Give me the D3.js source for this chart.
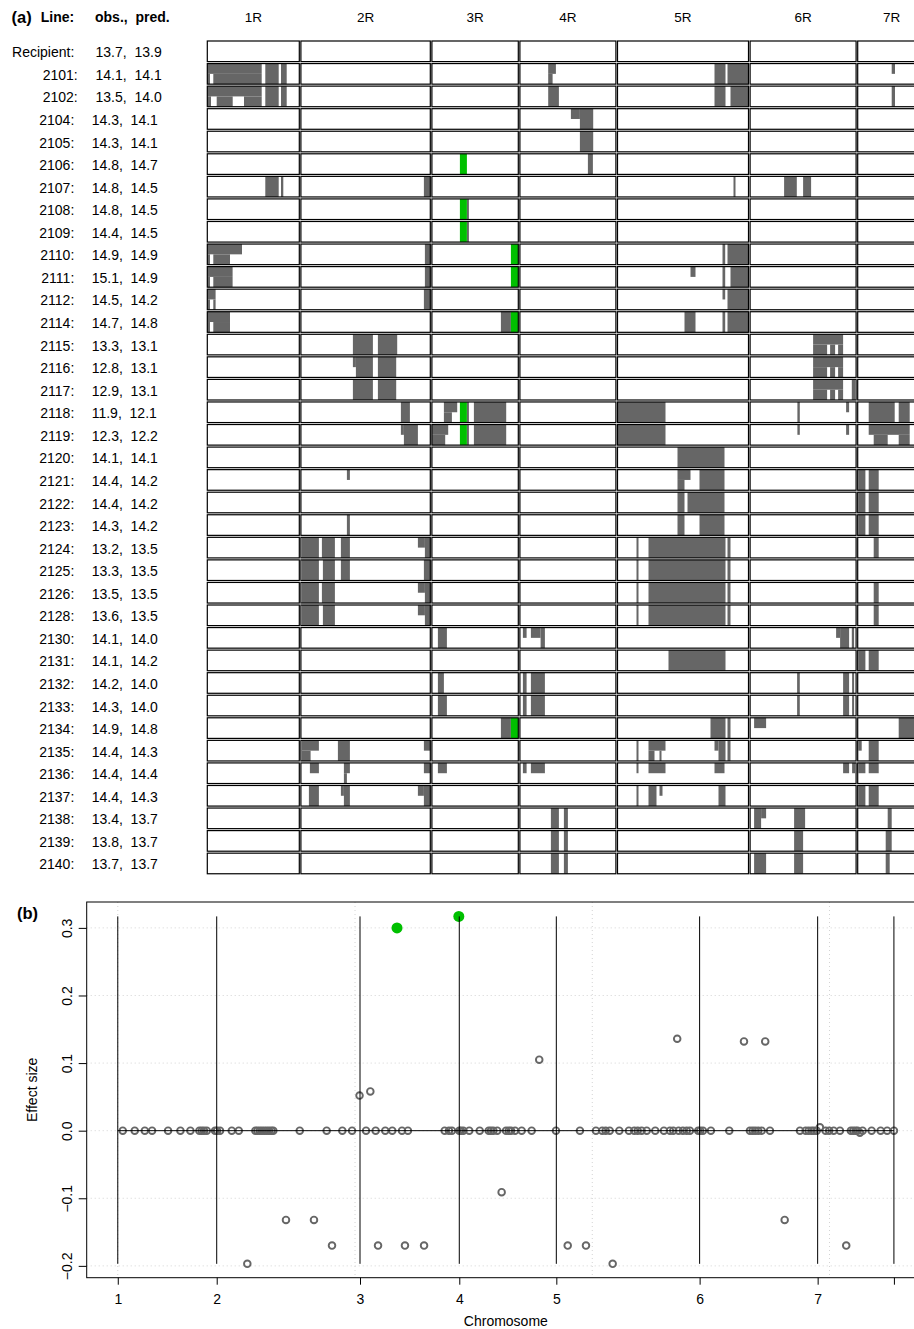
<!DOCTYPE html>
<html>
<head>
<meta charset="UTF-8">
<title>Introgression lines</title>
<script src="https://d3js.org/d3.v7.min.js"></script>
<style>
body { margin: 0; background: #fff; }
svg text { font-family: "Liberation Sans", Arial, Helvetica, sans-serif; fill: #000; }
</style>
</head>
<body>
<script>
// ---- panel (a) data ----
var lineIds = ["Recipient","2101","2102","2104","2105","2106","2107","2108","2109","2110","2111","2112","2114",
  "2115","2116","2117","2118","2119","2120","2121","2122","2123","2124","2125","2126","2128","2130","2131",
  "2132","2133","2134","2135","2136","2137","2138","2139","2140"];
var obsValues  = [13.7,14.1,13.5,14.3,14.3,14.8,14.8,14.8,14.4,14.9,15.1,14.5,14.7,13.3,12.8,12.9,11.9,12.3,
  14.1,14.4,14.4,14.3,13.2,13.3,13.5,13.6,14.1,14.1,14.2,14.3,14.9,14.4,14.4,14.4,13.4,13.8,13.7];
var predValues = [13.9,14.1,14.0,14.1,14.1,14.7,14.5,14.5,14.5,14.9,14.9,14.2,14.8,13.1,13.1,13.1,12.1,12.2,
  14.1,14.2,14.2,14.2,13.5,13.5,13.5,13.5,14.0,14.2,14.0,14.0,14.8,14.3,14.4,14.3,13.7,13.7,13.7];
var chrArms = ["1R","2R","3R","4R","5R","6R","7R"];
var armLengths = [92, 129.4, 86.4, 96, 131, 106, 68];

// donor segments: line, arm (1-7), from, to, homolog part (f = both, t = upper, b = lower)
var donorSegs = [
  ["2101",1,0,54.4,"t"],["2101",1,0,2.7,"b"],["2101",1,6,54.4,"b"],["2101",1,58,71.4,"f"],["2101",1,73.7,79.4,"f"],
  ["2101",4,28.3,36,"t"],["2101",4,28.3,32.7,"b"],["2101",5,97,108,"f"],["2101",5,110,131,"f"],["2101",7,34,37.3,"t"],
  ["2102",1,0,54.4,"t"],["2102",1,0,3.7,"b"],["2102",1,9.4,25.4,"b"],["2102",1,36.7,54.4,"b"],["2102",1,58,71.4,"f"],["2102",1,73.7,79.4,"f"],
  ["2102",4,28.3,39,"f"],["2102",5,97,108,"f"],["2102",5,113,131,"f"],["2102",7,34,37.3,"f"],
  ["2104",4,51,60,"t"],["2104",4,60,73.3,"f"],
  ["2105",4,60,73.3,"f"],
  ["2106",4,68,73,"f"],
  ["2107",1,58,71.4,"f"],["2107",1,73.7,76,"f"],["2107",2,123,129.4,"f"],["2107",5,116,118,"f"],["2107",6,34,46.7,"f"],["2107",6,53,61,"f"],
  ["2108",3,35,37,"f"],
  ["2109",3,35,37,"f"],
  ["2110",1,0,34.7,"t"],["2110",1,0,2.7,"b"],["2110",1,6,22.7,"b"],["2110",2,124,129.4,"f"],["2110",5,105,107.7,"f"],["2110",5,110,131,"f"],
  ["2111",1,0,25.3,"t"],["2111",1,0,2.7,"b"],["2111",1,6,25.3,"b"],["2111",2,124,129.4,"f"],["2111",5,73,78,"t"],["2111",5,105,107.7,"f"],["2111",5,113,131,"f"],
  ["2112",1,0,8.3,"t"],["2112",1,0,2.7,"b"],["2112",1,6,8.3,"b"],["2112",2,123,129.4,"f"],["2112",5,105,107.7,"t"],["2112",5,110,131,"f"],
  ["2114",1,0,22.7,"t"],["2114",1,0,2.7,"b"],["2114",1,6,22.7,"b"],["2114",3,69,79,"f"],["2114",5,67,78,"f"],["2114",5,105,107.7,"f"],["2114",5,110,131,"f"],
  ["2115",2,52,72,"f"],["2115",2,77,96.3,"f"],["2115",6,63,93,"t"],["2115",6,63,77,"b"],["2115",6,80,85,"b"],["2115",6,88,93,"b"],
  ["2116",2,52,55,"t"],["2116",2,55,72,"f"],["2116",2,77,95.3,"f"],["2116",6,63,93,"t"],["2116",6,63,77,"b"],["2116",6,80,85,"b"],["2116",6,88,93,"b"],
  ["2117",2,52,72,"f"],["2117",2,77,95.3,"f"],["2117",6,63,93,"t"],["2117",6,63,77,"b"],["2117",6,80,85,"b"],["2117",6,88,93,"b"],["2117",6,101.7,105,"f"],
  ["2118",2,100,109,"f"],["2118",3,12,25.3,"t"],["2118",3,12,20,"b"],["2118",3,35,37,"f"],["2118",3,42,74.3,"f"],["2118",5,0,48,"f"],
  ["2118",6,47.3,49.7,"f"],["2118",6,96,99,"t"],["2118",7,11,37,"f"],["2118",7,41,52,"f"],
  ["2119",2,100,103,"t"],["2119",2,103,117,"f"],["2119",3,0,16.3,"t"],["2119",3,0,13.3,"b"],["2119",3,35,37,"f"],["2119",3,42,74.3,"f"],["2119",5,0,48,"f"],
  ["2119",6,47.3,49.7,"t"],["2119",6,96,99,"t"],["2119",7,11,52,"t"],["2119",7,16,30,"b"],["2119",7,41,52,"b"],
  ["2120",5,60,107,"f"],
  ["2121",2,46,49,"t"],["2121",5,60,73,"t"],["2121",5,60,67,"b"],["2121",5,82,107,"f"],["2121",7,0.7,7.7,"f"],["2121",7,11,21,"f"],
  ["2122",5,60,67,"f"],["2122",5,70,107,"f"],["2122",7,0.7,7.7,"f"],["2122",7,11,21,"f"],
  ["2123",2,46,49,"f"],["2123",5,60,67,"f"],["2123",5,82,107,"f"],["2123",7,0.7,7.7,"f"],["2123",7,11,21,"f"],
  ["2124",2,1,18,"f"],["2124",2,21,34,"f"],["2124",2,40,49,"f"],["2124",2,117,124,"t"],["2124",2,124,129.4,"f"],
  ["2124",5,19,21,"f"],["2124",5,31,108,"f"],["2124",5,110,113,"f"],["2124",7,16,21,"f"],
  ["2125",2,1,18,"f"],["2125",2,22,34,"f"],["2125",2,40,49,"f"],["2125",2,123,129.4,"f"],
  ["2125",5,19,21,"f"],["2125",5,31,108,"f"],["2125",5,110,113,"f"],
  ["2126",2,1,18,"f"],["2126",2,21,34,"f"],["2126",2,117,124,"t"],["2126",2,124,129.4,"f"],
  ["2126",5,19,21,"f"],["2126",5,31,108,"f"],["2126",5,110,113,"f"],["2126",7,16,21,"f"],
  ["2128",2,1,18,"f"],["2128",2,22,34,"f"],["2128",2,117,124,"t"],["2128",2,124,129.4,"f"],
  ["2128",5,19,21,"f"],["2128",5,31,108,"f"],["2128",5,110,113,"f"],["2128",7,16,21,"f"],
  ["2130",3,6,15,"f"],["2130",4,3,6.7,"t"],["2130",4,11,20.7,"t"],["2130",4,20.7,25,"f"],["2130",6,86,90,"t"],["2130",6,90,99,"f"],["2130",6,101.7,104,"f"],
  ["2131",5,51,108,"f"],["2131",7,0.7,7.7,"f"],["2131",7,11,21,"f"],
  ["2132",3,6,12,"f"],["2132",4,3,6.7,"f"],["2132",4,11,25,"f"],["2132",6,47,49.7,"f"],["2132",6,93,99,"f"],["2132",6,102,104,"f"],
  ["2133",3,6,15,"f"],["2133",4,3,6.7,"f"],["2133",4,11,25,"f"],["2133",6,47,49.7,"f"],["2133",6,93,99,"f"],["2133",6,102,104,"f"],
  ["2134",3,69,79,"f"],["2134",5,93,108,"f"],["2134",5,110,113,"f"],["2134",6,4,16,"t"],["2134",7,41,68,"f"],
  ["2135",2,1,18,"t"],["2135",2,1,9.7,"b"],["2135",2,37,49,"f"],["2135",2,123,129.4,"t"],
  ["2135",5,19,21,"f"],["2135",5,31,48,"t"],["2135",5,31,37,"b"],["2135",5,42,44,"b"],["2135",5,97,101,"t"],["2135",5,101,108,"f"],["2135",5,110,113,"f"],
  ["2135",7,0.7,4,"t"],["2135",7,11,21,"f"],
  ["2136",2,9,18,"t"],["2136",2,43,49,"t"],["2136",2,43,46,"b"],["2136",2,123,129.4,"t"],["2136",3,6,15,"t"],["2136",4,3,6.7,"t"],["2136",4,11,25,"t"],
  ["2136",5,19,21,"t"],["2136",5,31,48,"t"],["2136",5,97,107,"t"],["2136",6,93,99,"t"],["2136",6,102,105,"t"],["2136",7,0.7,7.7,"t"],["2136",7,11,21,"t"],
  ["2137",2,8,18,"f"],["2137",2,40,43,"t"],["2137",2,43,49,"f"],["2137",2,117,123,"t"],["2137",2,123,129.4,"f"],
  ["2137",5,19,21,"f"],["2137",5,31,39,"f"],["2137",5,42,45,"t"],["2137",5,101,108,"f"],["2137",7,0.7,7.7,"f"],["2137",7,11,21,"f"],
  ["2138",4,31,39,"f"],["2138",4,44,48,"f"],["2138",6,4,11,"f"],["2138",6,11,16,"t"],["2138",6,44,55,"f"],["2138",7,30,34,"f"],
  ["2139",4,31,39,"f"],["2139",4,44,48,"f"],["2139",6,44,53,"f"],["2139",7,28,34,"f"],
  ["2140",4,31,39,"f"],["2140",4,44,48,"f"],["2140",6,4,16,"f"],["2140",6,44,53,"f"],["2140",7,28,32,"f"]
];
// segments carrying the selected QTL allele
var qtlSegs = [
  ["2106",3,28,35,"f"],["2108",3,28,35,"f"],["2109",3,28,35,"f"],
  ["2110",3,79,86.4,"f"],["2111",3,79,86.4,"f"],["2114",3,79,86.4,"f"],
  ["2118",3,28,35,"f"],["2119",3,28,35,"f"],["2134",3,79,86.4,"f"]
];

// ---- panel (b) data ----
var chrNames = ["1","2","3","4","5","6","7"];
var chrBounds = [0, 83.4, 204.2, 287.9, 369.7, 490.5, 590.0, 654.3];
var zeroEffectPos = [4.2,14.3,22.8,28.9,42.4,52.8,61.2,68.8,70.8,72.7,75.0,82.0,83.7,86.2,96.1,102.0,116.0,117.7,
  119.7,121.6,123.6,125.6,127.5,129.5,131.1,153.4,176.1,189.3,197.5,209.3,217.4,225.5,231.4,239.6,244.6,275.6,
  279.2,281.7,287.9,289.3,291.3,296.3,305.1,312.7,314.6,316.6,319.9,327.3,329.6,331.5,334.9,340.5,348.9,369.4,
  389.6,403.1,408.4,411.3,414.7,422.8,430.9,435.4,438.3,441.6,445.9,453.1,460.4,465.5,468.3,472.8,476.4,479.6,
  482.3,489.3,491.0,493.3,500.0,515.5,532.9,535.2,537.4,539.9,542.8,549.8,575.1,579.9,582.4,584.9,586.9,589.2,
  596.7,599.7,603.5,608.8,618.0,620.0,622.0,623.7,627.9,635.5,643.1,648.6,654.3];
var markerPos = [109.2,141.8,165.4,180.6,203.8,212.9,219.4,242.1,258.2,323.6,355.3,379.3,394.7,417.2,471.6,
  527.9,545.8,562.2,614.1,591.9,625.6];
var markerEff = [-0.197,-0.132,-0.132,-0.170,0.052,0.058,-0.170,-0.170,-0.170,-0.091,0.105,-0.170,-0.170,-0.197,
  0.136,0.132,0.132,-0.132,-0.170,0.005,-0.003];
var qtlPos = [235.4, 287.5];
var qtlEff = [0.300, 0.317];
var effectTicks = [-0.2,-0.1,0.0,0.1,0.2,0.3];
var gridX = [0, 200, 400, 600];

(function(){
var W = 914, H = 1329;
var grey = "#666666", green = "#00c000";
var svg = d3.select("body").append("svg").attr("width", W).attr("height", H);

// ================= panel (a) =================
var gap = 1.6;
var armStart = [];
var acc = 0;
armLengths.forEach(function(l){ armStart.push(acc); acc += l + gap; });
var xA = d3.scaleLinear().domain([0, acc]).range([207.3, 207.3 + acc]);
var yA = d3.scaleBand().domain(lineIds)
  .range([41, 41 + lineIds.length * 22.56 - 1.96]).paddingInner(0.087);
var bw = yA.bandwidth();

var pa = svg.append("g");

function segRect(sel, color){
  sel.enter().append("rect")
    .attr("x", function(d){ return xA(armStart[d[1]-1] + d[2]); })
    .attr("width", function(d){ return xA(armStart[d[1]-1] + d[3]) - xA(armStart[d[1]-1] + d[2]); })
    .attr("y", function(d){ return yA(d[0]) + (d[4] === "b" ? bw/2 : 0); })
    .attr("height", function(d){ return d[4] === "f" ? bw : bw/2; })
    .attr("fill", color);
}
segRect(pa.append("g").selectAll("rect").data(donorSegs), grey);
segRect(pa.append("g").selectAll("rect").data(qtlSegs), green);

// chromosome boxes
var cells = [];
lineIds.forEach(function(l){ chrArms.forEach(function(c, i){ cells.push([l, i]); }); });
pa.append("g").selectAll("rect").data(cells).enter().append("rect")
  .attr("x", function(d){ return xA(armStart[d[1]]); })
  .attr("width", function(d){ return xA(armStart[d[1]] + armLengths[d[1]]) - xA(armStart[d[1]]); })
  .attr("y", function(d){ return yA(d[0]); })
  .attr("height", bw)
  .attr("fill", "none").attr("stroke", "#000").attr("stroke-width", 1.2);

// headers
pa.append("text").attr("x", 11.5).attr("y", 22.5).attr("font-size", 16.5).attr("font-weight", "bold").text("(a)");
pa.append("text").attr("x", 40.7).attr("y", 22.3).attr("font-size", 14).attr("font-weight", "bold").text("Line:");
pa.append("text").attr("x", 95).attr("y", 22.3).attr("font-size", 14).attr("font-weight", "bold").text("obs., \u00a0pred.");
pa.append("g").selectAll("text").data(chrArms).enter().append("text")
  .attr("x", function(d, i){ return xA(armStart[i] + armLengths[i]/2); })
  .attr("y", 22.3).attr("text-anchor", "middle").attr("font-size", 13.5)
  .text(function(d){ return d; });

// row labels
var rows = pa.append("g").selectAll("g").data(lineIds).enter().append("g");
rows.append("text")
  .attr("x", function(d, i){ return (i === 1 || i === 2) ? 77.7 : 74.3; })
  .attr("y", function(d){ return yA(d) + 16.3; })
  .attr("text-anchor", "end").attr("font-size", 14)
  .text(function(d){ return d + ":"; });
rows.append("text")
  .attr("x", function(d, i){ return i < 3 ? 95.5 : 91.7; })
  .attr("y", function(d){ return yA(d) + 16.3; })
  .attr("font-size", 14)
  .text(function(d, i){ return obsValues[i].toFixed(1) + ", \u00a0" + predValues[i].toFixed(1); });

// ================= panel (b) =================
var pL = 86.7, pR = 925, pT = 902, pB = 1277.7;
var x = d3.scaleLinear().domain([-26.2, 680.5]).range([pL, pR]);
var y = d3.scaleLinear().domain([-0.2175, 0.3383]).range([pB, pT]);
var pb = svg.append("g");

// dotted grid
pb.append("g").selectAll("line").data(effectTicks).enter().append("line")
  .attr("x1", pL).attr("x2", pR).attr("y1", function(d){ return y(d); }).attr("y2", function(d){ return y(d); })
  .attr("stroke", "#d3d3d3").attr("stroke-dasharray", "1,3");
pb.append("g").selectAll("line").data(gridX).enter().append("line")
  .attr("y1", pT).attr("y2", pB).attr("x1", function(d){ return x(d); }).attr("x2", function(d){ return x(d); })
  .attr("stroke", "#d3d3d3").attr("stroke-dasharray", "1,3");

// markers
var allEff = markerEff.concat(qtlEff);
var effExt = d3.extent(allEff);
pb.append("g").selectAll("circle").data(zeroEffectPos).enter().append("circle")
  .attr("cx", function(d){ return x(d); }).attr("cy", y(0)).attr("r", 3.3)
  .attr("fill", "none").attr("stroke", grey).attr("stroke-width", 1.9);
pb.append("g").selectAll("circle").data(markerPos).enter().append("circle")
  .attr("cx", function(d){ return x(d); }).attr("cy", function(d, i){ return y(markerEff[i]); }).attr("r", 3.3)
  .attr("fill", "none").attr("stroke", grey).attr("stroke-width", 1.9);
pb.append("g").selectAll("circle").data(qtlPos).enter().append("circle")
  .attr("cx", function(d){ return x(d); }).attr("cy", function(d, i){ return y(qtlEff[i]); }).attr("r", 5.5)
  .attr("fill", green);

// chromosome boundaries and zero line
pb.append("g").selectAll("line").data(chrBounds).enter().append("line")
  .attr("x1", function(d){ return x(d); }).attr("x2", function(d){ return x(d); })
  .attr("y1", y(effExt[0])).attr("y2", y(effExt[1]))
  .attr("stroke", "#000").attr("stroke-width", 1);
pb.append("line").attr("x1", x(chrBounds[0])).attr("x2", x(chrBounds[chrBounds.length-1]))
  .attr("y1", y(0)).attr("y2", y(0)).attr("stroke", "#000").attr("stroke-width", 1);

// box
pb.append("rect").attr("x", pL).attr("y", pT).attr("width", pR - pL).attr("height", pB - pT)
  .attr("fill", "none").attr("stroke", "#000").attr("stroke-width", 1);

// axes
var yAxis = pb.append("g").attr("transform", "translate(" + pL + ",0)")
  .call(d3.axisLeft(y).tickValues(effectTicks).tickSize(8).tickFormat(d3.format(".1f")));
yAxis.select(".domain").remove();
yAxis.selectAll("text").attr("x", null).attr("dy", null)
  .attr("transform", "translate(-15,0) rotate(-90)").attr("text-anchor", "middle")
  .attr("font-size", 14).attr("font-family", null);

var xAxis = pb.append("g").attr("transform", "translate(0," + pB + ")")
  .call(d3.axisBottom(x).tickValues(chrBounds).tickSize(7)
    .tickFormat(function(d, i){ return i < chrNames.length ? chrNames[i] : ""; }));
xAxis.select(".domain").remove();
xAxis.selectAll("text").attr("y", 26.5).attr("dy", null).attr("font-size", 14).attr("font-family", null);

pb.append("text").attr("x", (pL + pR) / 2).attr("y", 1326).attr("text-anchor", "middle")
  .attr("font-size", 14).text("Chromosome");
pb.append("text").attr("transform", "translate(36.7," + ((pT + pB) / 2) + ") rotate(-90)")
  .attr("text-anchor", "middle").attr("font-size", 14).text("Effect size");
pb.append("text").attr("x", 17).attr("y", 918.5).attr("font-size", 16.5).attr("font-weight", "bold").text("(b)");
})();
</script>
</body>
</html>
